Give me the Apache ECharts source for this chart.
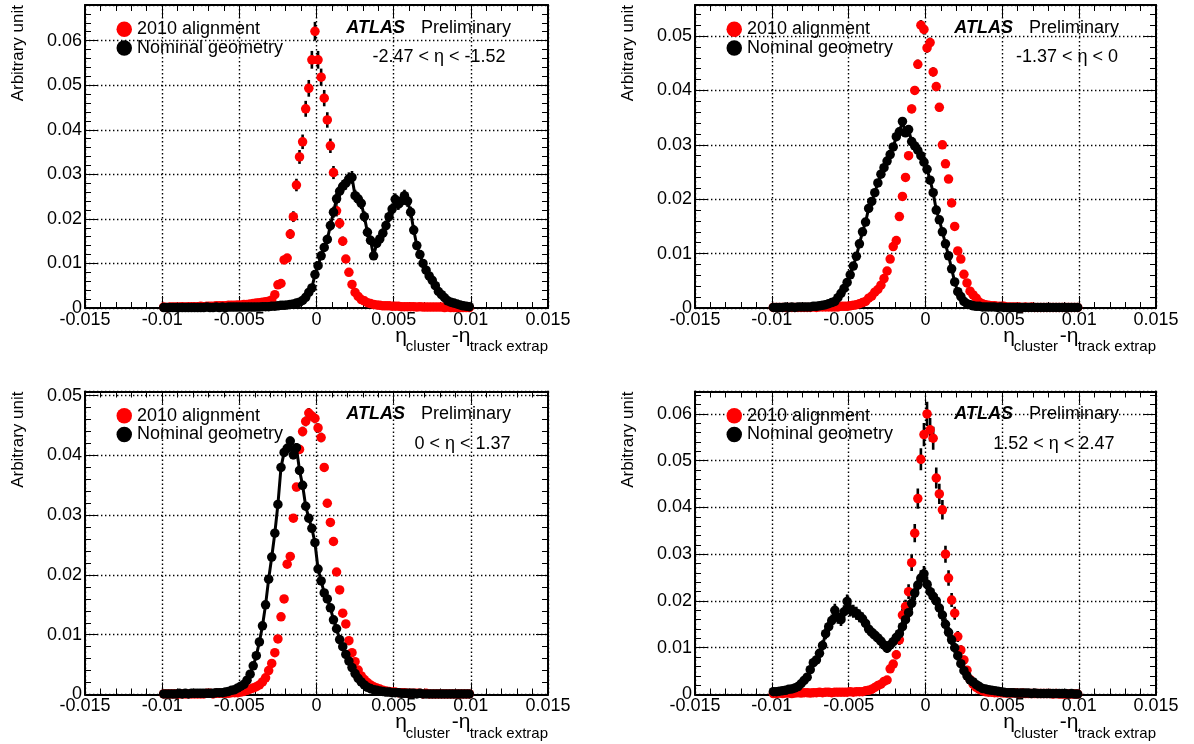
<!DOCTYPE html>
<html><head><meta charset="utf-8">
<script src="https://cdn.jsdelivr.net/npm/echarts@6/dist/echarts.min.js"></script>
<style>html,body{margin:0;padding:0;background:#fff;} #c{width:1194px;height:744px;}</style>
</head><body><div id="c"></div>
<script>
// ---------- DATA ----------
const binCenters = [
 -0.0099,-0.0097,-0.0095,-0.0093,-0.0091,-0.0089,-0.0087,-0.0085,-0.0083,-0.0081,
 -0.0079,-0.0077,-0.0075,-0.0073,-0.0071,-0.0069,-0.0067,-0.0065,-0.0063,-0.0061,
 -0.0059,-0.0057,-0.0055,-0.0053,-0.0051,-0.0049,-0.0047,-0.0045,-0.0043,-0.0041,
 -0.0039,-0.0037,-0.0035,-0.0033,-0.0031,-0.0029,-0.0027,-0.0025,-0.0023,-0.0021,
 -0.0019,-0.0017,-0.0015,-0.0013,-0.0011,-0.0009,-0.0007,-0.0005,-0.0003,-0.0001,
 0.0001,0.0003,0.0005,0.0007,0.0009,0.0011,0.0013,0.0015,0.0017,0.0019,
 0.0021,0.0023,0.0025,0.0027,0.0029,0.0031,0.0033,0.0035,0.0037,0.0039,
 0.0041,0.0043,0.0045,0.0047,0.0049,0.0051,0.0053,0.0055,0.0057,0.0059,
 0.0061,0.0063,0.0065,0.0067,0.0069,0.0071,0.0073,0.0075,0.0077,0.0079,
 0.0081,0.0083,0.0085,0.0087,0.0089,0.0091,0.0093,0.0095,0.0097,0.0099];

// Panel 1: -2.47 < eta < -1.52
const p1Red = [
 0.0002,0.0001,0.0002,0.0002,0.0002,0.0002,0.0003,0.0002,0.0003,0.0003,
 0.0003,0.0003,0.0004,0.0003,0.0004,0.0004,0.0004,0.0005,0.0005,0.0005,
 0.0005,0.0006,0.0006,0.0006,0.0007,0.0007,0.0008,0.0008,0.0009,0.0010,
 0.0011,0.0012,0.0013,0.0014,0.0015,0.0018,0.0030,0.0052,0.0055,0.0108,
 0.0112,0.0166,0.0205,0.0276,0.0339,0.0373,0.0447,0.0493,0.0557,0.0621,
 0.0557,0.0518,0.0471,0.0422,0.0364,0.0304,0.0218,0.0190,0.0150,0.0110,
 0.0080,0.0053,0.0035,0.0026,0.0019,0.0016,0.0012,0.0010,0.0008,0.0007,
 0.0006,0.0005,0.0005,0.0005,0.0004,0.0004,0.0004,0.0003,0.0003,0.0003,
 0.0003,0.0003,0.0002,0.0003,0.0002,0.0002,0.0002,0.0002,0.0002,0.0002,
 0.0002,0.0001,0.0002,0.0001,0.0001,0.0001,0.0001,0.0001,0.0001,0.0001];
const p1Black = [
 0.0001,0.0001,0.0001,0.0001,0.0001,0.0001,0.0001,0.0001,0.0001,0.0001,
 0.0001,0.0001,0.0001,0.0001,0.0002,0.0001,0.0001,0.0002,0.0001,0.0002,
 0.0001,0.0002,0.0002,0.0002,0.0002,0.0002,0.0002,0.0002,0.0002,0.0002,
 0.0002,0.0002,0.0003,0.0003,0.0003,0.0004,0.0004,0.0005,0.0006,0.0006,
 0.0007,0.0008,0.0009,0.0011,0.0013,0.0017,0.0024,0.0035,0.0045,0.0075,
 0.0095,0.0117,0.0136,0.0154,0.0185,0.0215,0.0245,0.0262,0.0273,0.0280,
 0.0290,0.0293,0.0252,0.0245,0.0235,0.0205,0.0170,0.0152,0.0117,0.0145,
 0.0155,0.0168,0.0185,0.0205,0.0222,0.0244,0.0233,0.0240,0.0252,0.0240,
 0.0215,0.0175,0.0140,0.0120,0.0100,0.0085,0.0072,0.0062,0.0050,0.0037,
 0.0030,0.0023,0.0016,0.0013,0.0011,0.0009,0.0007,0.0005,0.0004,0.0003];

// Panel 2: -1.37 < eta < 0
const p2Red = [
 0.0001,0.0001,0.0001,0.0001,0.0001,0.0001,0.0001,0.0001,0.0001,0.0001,
 0.0001,0.0001,0.0001,0.0002,0.0001,0.0002,0.0002,0.0002,0.0002,0.0002,
 0.0002,0.0002,0.0003,0.0003,0.0003,0.0004,0.0005,0.0006,0.0008,0.0010,
 0.0012,0.0018,0.0022,0.0029,0.0034,0.0042,0.0054,0.0068,0.0090,0.0113,
 0.0124,0.0168,0.0205,0.0240,0.0280,0.0366,0.0400,0.0448,0.0520,0.0512,
 0.0478,0.0488,0.0434,0.0407,0.0369,0.0300,0.0265,0.0237,0.0193,0.0150,
 0.0105,0.0090,0.0062,0.0046,0.0031,0.0024,0.0018,0.0011,0.0008,0.0006,
 0.0005,0.0004,0.0004,0.0003,0.0003,0.0003,0.0002,0.0002,0.0002,0.0002,
 0.0002,0.0001,0.0002,0.0001,0.0002,0.0001,0.0001,0.0001,0.0001,0.0001,
 0.0001,0.0001,0.0001,0.0001,0.0001,0.0001,0.0001,0.0001,0.0001,0.0001];
const p2Black = [
 0.0001,0.0001,0.0001,0.0001,0.0002,0.0001,0.0002,0.0001,0.0002,0.0002,
 0.0002,0.0002,0.0002,0.0003,0.0003,0.0004,0.0005,0.0006,0.0008,0.0010,
 0.0012,0.0019,0.0027,0.0036,0.0047,0.0061,0.0077,0.0095,0.0118,0.0140,
 0.0158,0.0183,0.0196,0.0212,0.0230,0.0246,0.0258,0.0270,0.0282,0.0296,
 0.0315,0.0324,0.0343,0.0322,0.0328,0.0306,0.0298,0.0290,0.0280,0.0268,
 0.0255,0.0235,0.0212,0.0180,0.0162,0.0140,0.0118,0.0096,0.0072,0.0048,
 0.0030,0.0021,0.0012,0.0008,0.0006,0.0004,0.0003,0.0003,0.0002,0.0002,
 0.0002,0.0002,0.0002,0.0001,0.0002,0.0001,0.0001,0.0001,0.0001,0.0001,
 0.0001,0.0001,0.0001,0.0001,0.0001,0.0001,0.0001,0.0001,0.0001,0.0001,
 0.0001,0.0001,0.0001,0.0001,0.0001,0.0001,0.0001,0.0001,0.0001,0.0001];

// Panel 3: 0 < eta < 1.37
const p3Red = [
 0.0001,0.0001,0.0001,0.0001,0.0001,0.0001,0.0001,0.0001,0.0001,0.0001,
 0.0001,0.0001,0.0001,0.0001,0.0002,0.0002,0.0001,0.0002,0.0002,0.0002,
 0.0002,0.0002,0.0003,0.0003,0.0003,0.0004,0.0005,0.0007,0.0009,0.0011,
 0.0013,0.0016,0.0021,0.0028,0.0040,0.0052,0.0070,0.0093,0.0130,0.0160,
 0.0218,0.0231,0.0295,0.0347,0.0410,0.0440,0.0457,0.0471,0.0466,0.0462,
 0.0446,0.0430,0.0380,0.0320,0.0288,0.0256,0.0205,0.0175,0.0136,0.0118,
 0.0090,0.0070,0.0055,0.0041,0.0031,0.0025,0.0020,0.0016,0.0013,0.0011,
 0.0009,0.0007,0.0006,0.0005,0.0004,0.0004,0.0003,0.0003,0.0003,0.0002,
 0.0002,0.0002,0.0002,0.0002,0.0001,0.0002,0.0001,0.0001,0.0001,0.0001,
 0.0001,0.0001,0.0001,0.0001,0.0001,0.0001,0.0001,0.0001,0.0001,0.0001];
const p3Black = [
 0.0001,0.0001,0.0001,0.0001,0.0001,0.0002,0.0001,0.0002,0.0001,0.0002,
 0.0002,0.0002,0.0002,0.0002,0.0002,0.0002,0.0002,0.0003,0.0003,0.0003,
 0.0004,0.0005,0.0007,0.0008,0.0011,0.0014,0.0017,0.0024,0.0034,0.0048,
 0.0065,0.0088,0.0115,0.0150,0.0193,0.0230,0.0270,0.0318,0.0380,0.0405,
 0.0412,0.0424,0.0401,0.0413,0.0375,0.0350,0.0315,0.0295,0.0278,0.0254,
 0.0210,0.0190,0.0170,0.0160,0.0145,0.0125,0.0110,0.0092,0.0080,0.0067,
 0.0056,0.0045,0.0035,0.0027,0.0021,0.0016,0.0012,0.0010,0.0008,0.0007,
 0.0006,0.0005,0.0004,0.0004,0.0003,0.0003,0.0003,0.0002,0.0002,0.0002,
 0.0002,0.0002,0.0001,0.0002,0.0001,0.0001,0.0001,0.0001,0.0001,0.0001,
 0.0001,0.0001,0.0001,0.0001,0.0001,0.0001,0.0001,0.0001,0.0001,0.0001];

// Panel 4: 1.52 < eta < 2.47
const p4Red = [
 0.0002,0.0002,0.0003,0.0002,0.0003,0.0003,0.0002,0.0003,0.0004,0.0003,
 0.0004,0.0004,0.0003,0.0004,0.0004,0.0005,0.0004,0.0005,0.0005,0.0004,
 0.0005,0.0005,0.0005,0.0005,0.0005,0.0006,0.0005,0.0006,0.0006,0.0006,
 0.0008,0.0009,0.0011,0.0015,0.0019,0.0022,0.0028,0.0031,0.0055,0.0065,
 0.0085,0.0117,0.0170,0.0188,0.0220,0.0282,0.0345,0.0419,0.0503,0.0556,
 0.0600,0.0566,0.0548,0.0463,0.0429,0.0395,0.0300,0.0249,0.0202,0.0174,
 0.0124,0.0095,0.0074,0.0052,0.0032,0.0022,0.0015,0.0011,0.0008,0.0006,
 0.0005,0.0005,0.0004,0.0004,0.0004,0.0003,0.0003,0.0003,0.0003,0.0003,
 0.0002,0.0003,0.0002,0.0002,0.0002,0.0002,0.0002,0.0002,0.0002,0.0002,
 0.0002,0.0001,0.0002,0.0001,0.0001,0.0001,0.0001,0.0001,0.0001,0.0001];
const p4Black = [
 0.0006,0.0006,0.0007,0.0008,0.0009,0.0011,0.0012,0.0014,0.0017,0.0023,
 0.0030,0.0037,0.0053,0.0068,0.0074,0.0088,0.0105,0.0130,0.0145,0.0158,
 0.0180,0.0165,0.0160,0.0177,0.0199,0.0181,0.0178,0.0174,0.0168,0.0162,
 0.0152,0.0140,0.0133,0.0127,0.0121,0.0114,0.0106,0.0099,0.0106,0.0113,
 0.0122,0.0130,0.0145,0.0160,0.0175,0.0195,0.0217,0.0234,0.0249,0.0258,
 0.0236,0.0220,0.0210,0.0200,0.0185,0.0170,0.0150,0.0133,0.0117,0.0100,
 0.0083,0.0066,0.0051,0.0040,0.0031,0.0027,0.0021,0.0017,0.0013,0.0012,
 0.0010,0.0009,0.0008,0.0007,0.0006,0.0005,0.0004,0.0004,0.0004,0.0003,
 0.0003,0.0003,0.0003,0.0003,0.0002,0.0003,0.0002,0.0002,0.0002,0.0002,
 0.0002,0.0002,0.0002,0.0002,0.0002,0.0002,0.0001,0.0002,0.0001,0.0001];

const seriesNames = ['2010 alignment', 'Nominal geometry'];
const etaRanges = ['-2.47 < η < -1.52', '-1.37 < η < 0', '0 < η < 1.37', '1.52 < η < 2.47'];
const yAxisMax = [0.068, 0.0557, 0.0507, 0.0648];
const effEntries = [14000, 60000, 70000, 9000];   // effective statistics for Poisson error bars
const xTickLabels = ['-0.015', '-0.01', '-0.005', '0', '0.005', '0.01', '0.015'];

// ---------- LAYOUT ----------
const FONT = '"Liberation Sans", Arial, Helvetica, sans-serif';
const layout = [
  {left: 85,  top: 5,     width: 463, height: 303, etaGap: 42.5},
  {left: 695, top: 5,     width: 461, height: 303, etaGap: 38},
  {left: 85,  top: 391.5, width: 463, height: 303, etaGap: 37.5},
  {left: 695, top: 391.5, width: 461, height: 303, etaGap: 41.6}
];
const W = 1194;
const panels = [
  {red: p1Red, black: p1Black}, {red: p2Red, black: p2Black},
  {red: p3Red, black: p3Black}, {red: p4Red, black: p4Black}
];

const fmt = v => { const r = Math.round(v * 10000) / 10000; return String(r === 0 ? 0 : r); };
const blk = '#000';
const option = {
  animation: false, backgroundColor: '#fff',
  grid: [], xAxis: [], yAxis: [], series: [], legend: [], title: [], graphic: []
};

function errRender(params, api) {
  const x = api.value(0), y = api.value(1), e = api.value(2);
  const a = api.coord([x, y + e]);
  const b = api.coord([x, Math.max(0, y - e)]);
  return {type: 'line', shape: {x1: a[0], y1: a[1], x2: b[0], y2: b[1]},
          style: {stroke: blk, lineWidth: 2.6}};
}

panels.forEach((p, i) => {
  const L = layout[i];
  const R = L.left + L.width, B = L.top + L.height;
  option.grid.push({left: L.left, top: L.top, width: L.width, height: L.height,
                    containLabel: false, outerBoundsMode: 'none', show: false});
  const line = {show: true, onZero: false, lineStyle: {color: blk, width: 2}};
  const tick = {show: true, inside: true, length: 12, lineStyle: {color: blk, width: 1}};
  const minor = {show: true, splitNumber: 5, length: 6, lineStyle: {color: blk, width: 1}};
  const dotted = {show: true, lineStyle: {color: blk, width: 1.4, type: [1.4, 2.6]}};
  const lbl = {show: true, fontSize: 18, fontFamily: FONT, color: blk, hideOverlap: false};
  // bottom / top x axes
  option.xAxis.push({gridIndex: i, type: 'value', position: 'bottom', min: -0.015, max: 0.015, interval: 0.005,
    axisLine: line, axisTick: tick, minorTick: minor, splitLine: dotted, minorSplitLine: {show: false},
    axisLabel: Object.assign({}, lbl, {margin: 3, formatter: v => {
      const s = fmt(v); return xTickLabels.indexOf(s) >= 0 ? s : ''; }})});
  option.xAxis.push({gridIndex: i, type: 'value', position: 'top', min: -0.015, max: 0.015, interval: 0.005,
    axisLine: line, axisTick: tick, minorTick: minor, splitLine: {show: false}, axisLabel: {show: false}});
  // left / right y axes
  option.yAxis.push({gridIndex: i, type: 'value', position: 'left', min: 0, max: yAxisMax[i], interval: 0.01,
    axisLine: line, axisTick: tick, minorTick: minor, splitLine: dotted, minorSplitLine: {show: false},
    axisLabel: Object.assign({}, lbl, {margin: 3, showMaxLabel: false, formatter: fmt})});
  option.yAxis.push({gridIndex: i, type: 'value', position: 'right', min: 0, max: yAxisMax[i], interval: 0.01,
    axisLine: line, axisTick: tick, minorTick: minor, splitLine: {show: false}, axisLabel: {show: false}});

  const xi = 2 * i, yi = 2 * i, N = effEntries[i];
  const redPts = binCenters.map((x, k) => [x, p.red[k]]);
  const blackPts = binCenters.map((x, k) => [x, p.black[k]]);
  option.series.push({type: 'custom', name: 'err-red-' + i, xAxisIndex: xi, yAxisIndex: yi, clip: true,
    renderItem: errRender, encode: {x: 0, y: 1},
    data: binCenters.map((x, k) => [x, p.red[k], Math.sqrt(p.red[k] / N)])});
  option.series.push({type: 'scatter', name: seriesNames[0], xAxisIndex: xi, yAxisIndex: yi, clip: true,
    symbol: 'circle', symbolSize: 9.5, itemStyle: {color: '#ff0000', opacity: 1}, data: redPts});
  option.series.push({type: 'custom', name: 'err-black-' + i, xAxisIndex: xi, yAxisIndex: yi, clip: true,
    renderItem: errRender, encode: {x: 0, y: 1},
    data: binCenters.map((x, k) => [x, p.black[k], Math.sqrt(p.black[k] / N)])});
  option.series.push({type: 'line', name: seriesNames[1], xAxisIndex: xi, yAxisIndex: yi, clip: true,
    symbol: 'circle', symbolSize: 9.5, showSymbol: true, showAllSymbol: true,
    lineStyle: {color: blk, width: 3}, itemStyle: {color: blk, opacity: 1}, data: blackPts});

  // legend
  option.legend.push({left: L.left + 31.5, top: L.top + 15, orient: 'vertical', padding: 0,
    itemWidth: 15.5, itemHeight: 15.5, itemGap: 0, icon: 'circle', selectedMode: false,
    textStyle: {fontSize: 18, fontFamily: FONT, color: blk, lineHeight: 18.6},
    data: [{name: seriesNames[0], icon: 'circle', itemStyle: {color: '#ff0000'}},
           {name: seriesNames[1], icon: 'circle', itemStyle: {color: blk}}]});
  // ATLAS Preliminary and eta range
  option.title.push({text: '{a|ATLAS}{b|Preliminary}', right: W - (R - 37), top: L.top + 14, padding: 0,
    textStyle: {fontWeight: 'normal', rich: {
      a: {fontSize: 18, fontWeight: 'bold', fontStyle: 'italic', fontFamily: FONT, color: blk, lineHeight: 18},
      b: {fontSize: 18, fontWeight: 'normal', fontStyle: 'normal', fontFamily: FONT, color: blk, lineHeight: 18, padding: [0, 0, 0, 16]}}}});
  option.title.push({text: etaRanges[i], right: W - (R - L.etaGap), top: L.top + 43.3, padding: 0,
    textStyle: {fontSize: 18, fontWeight: 'normal', fontFamily: FONT, color: blk, lineHeight: 18}});
  // axis titles
  option.graphic.push({type: 'text', x: L.left - 67, y: L.top, rotation: Math.PI / 2,
    style: {text: 'Arbitrary unit', fontSize: 17, fontFamily: FONT, fill: blk, align: 'right', verticalAlign: 'middle'}});
  const cy1 = B + 28, cy2 = B + 39;
  [['track extrap', 0, cy2, 15], ['-η', 77.5, cy1, 21], ['cluster', 98, cy2, 15], ['η', 141, cy1, 21]]
    .forEach(t => option.graphic.push({type: 'text', x: R - t[1], y: t[2],
      style: {text: t[0], fontSize: t[3], fontFamily: FONT, fill: blk, align: 'right', verticalAlign: 'middle'}}));
});

const chart = echarts.init(document.getElementById('c'), null, {renderer: 'canvas', width: 1194, height: 744});
chart.setOption(option);
</script>
</body></html>
